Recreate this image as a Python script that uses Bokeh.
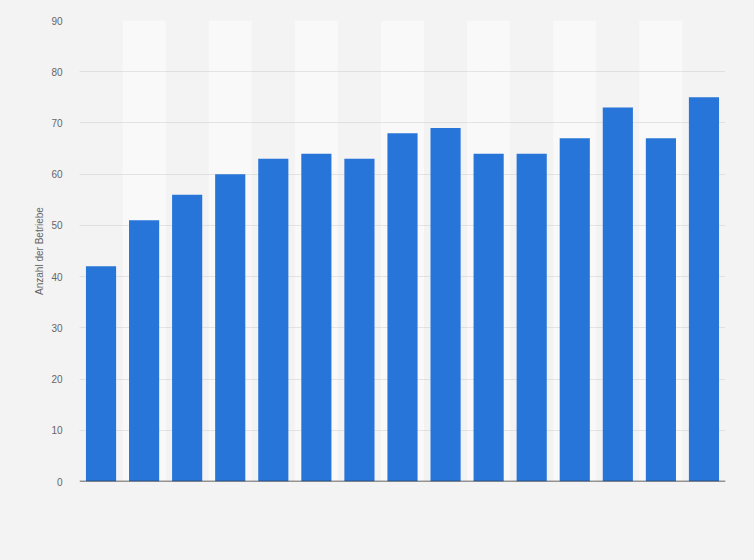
from bokeh.plotting import figure
from bokeh.models import Range1d, FixedTicker, Span, ColumnDataSource
from bokeh.embed import file_html
from bokeh.resources import INLINE

# Data (15 bars, category labels not shown in the reference)
categories = list(range(15))
values = [42, 51, 56, 60, 63, 64, 63, 68, 69, 64, 64, 67, 73, 67, 75]
y_ticks = [0, 10, 20, 30, 40, 50, 60, 70, 80, 90]
y_label = "Anzahl der Betriebe"

x_pos = [c + 0.5 for c in categories]
band_x = [c + 0.5 for c in categories if c % 2 == 1]

p = figure(width=754, height=560, output_backend="svg", toolbar_location=None,
           x_range=Range1d(0, len(categories)), y_range=Range1d(0, 90),
           min_border_left=79, min_border_right=29, min_border_top=20, min_border_bottom=79)

p.background_fill_color = "#f3f3f3"
p.border_fill_color = "#f3f3f3"
p.outline_line_color = None

# alternating light bands
p.vbar(x=band_x, width=1.0, top=max(y_ticks), bottom=0, fill_color="#f9f9f9",
       line_color=None, level="image")

src = ColumnDataSource(dict(x=x_pos, top=values))
p.vbar(x="x", top="top", width=0.7, source=src, fill_color="#2775d9", line_color=None)

p.xaxis.visible = False
p.xgrid.visible = False

p.ygrid.grid_line_color = "#cccccc"
p.ygrid.grid_line_dash = "1 1"
p.ygrid.grid_line_width = 1

ax = p.yaxis[0]
ax.ticker = FixedTicker(ticks=y_ticks)
ax.axis_line_color = None
ax.major_tick_line_color = None
ax.minor_tick_line_color = None
ax.major_label_text_color = "#666666"
ax.major_label_text_font = "Liberation Sans"
ax.major_label_text_font_size = "10px"
ax.major_label_standoff = 11
ax.axis_label = y_label
ax.axis_label_text_color = "#666666"
ax.axis_label_text_font = "Liberation Sans"
ax.axis_label_text_font_size = "10px"
ax.axis_label_text_font_style = "normal"
ax.axis_label_standoff = 3

p.add_layout(Span(location=0, dimension="width", line_color="#333333", line_width=1.5))

html = file_html(p, INLINE)
html = html.replace("<head>", "<head><style>body{background:#f3f3f3;}</style>", 1)
open("out.html", "w").write(html)
